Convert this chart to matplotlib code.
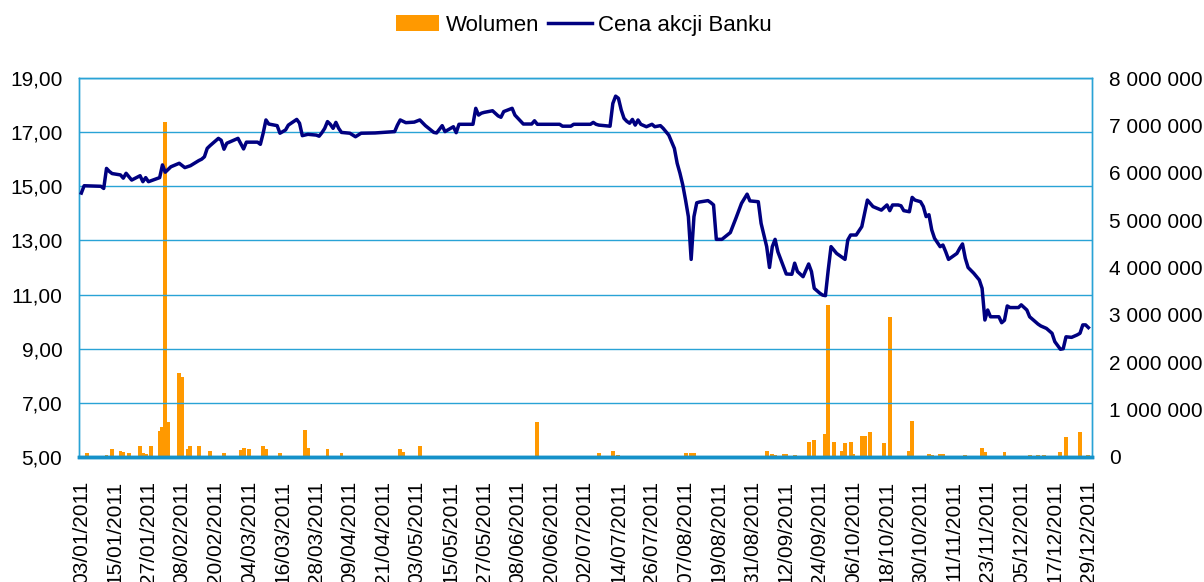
#
# Wolumen i cena akcji Banku, 2011
#

import pandas as pd
import matplotlib
matplotlib.use('Agg')
import matplotlib.pyplot as plt
from matplotlib.ticker import FuncFormatter
from matplotlib.patches import Patch
from matplotlib.lines import Line2D

plt.rcParams['font.family'] = ['Liberation Sans', 'DejaVu Sans']

# cena akcji (dzien/miesiac, cena w zl)
cena_daty = ['03/01', '04/01', '10/01', '11/01', '12/01', '13/01', '14/01', '17/01', '18/01', '19/01',
             '21/01', '24/01', '25/01', '26/01', '27/01', '31/01', '01/02', '02/02', '04/02', '07/02',
             '09/02', '11/02', '14/02', '15/02', '16/02', '17/02', '18/02', '21/02', '22/02', '23/02',
             '24/02', '28/02', '02/03', '03/03', '07/03', '08/03', '09/03', '10/03', '11/03', '14/03',
             '15/03', '16/03', '17/03', '18/03', '21/03', '22/03', '23/03', '25/03', '28/03', '29/03',
             '30/03', '31/03', '01/04', '02/04', '03/04', '04/04', '05/04', '06/04', '09/04', '11/04',
             '13/04', '18/04', '25/04', '26/04', '27/04', '29/04', '02/05', '04/05', '06/05', '09/05',
             '10/05', '12/05', '13/05', '16/05', '17/05', '18/05', '23/05', '24/05', '25/05', '26/05',
             '27/05', '30/05', '01/06', '02/06', '03/06', '06/06', '07/06', '10/06', '13/06', '14/06',
             '15/06', '23/06', '24/06', '27/06', '28/06', '04/07', '05/07', '06/07', '07/07', '11/07',
             '12/07', '13/07', '14/07', '15/07', '16/07', '17/07', '18/07', '19/07', '20/07', '21/07',
             '22/07', '24/07', '26/07', '27/07', '29/07', '30/07', '01/08', '03/08', '04/08', '05/08',
             '06/08', '07/08', '08/08', '09/08', '10/08', '11/08', '12/08', '15/08', '16/08', '17/08',
             '18/08', '20/08', '23/08', '25/08', '27/08', '29/08', '30/08', '02/09', '03/09', '05/09',
             '06/09', '07/09', '08/09', '09/09', '11/09', '12/09', '14/09', '15/09', '16/09', '18/09',
             '20/09', '21/09', '22/09', '24/09', '25/09', '26/09', '27/09', '28/09', '30/09', '03/10',
             '04/10', '05/10', '07/10', '09/10', '11/10', '13/10', '16/10', '18/10', '19/10', '20/10',
             '22/10', '23/10', '24/10', '26/10', '27/10', '28/10', '30/10', '31/10', '01/11', '02/11',
             '03/11', '04/11', '06/11', '07/11', '08/11', '09/11', '12/11', '13/11', '14/11', '15/11',
             '16/11', '18/11', '20/11', '21/11', '22/11', '23/11', '24/11', '27/11', '28/11', '29/11',
             '30/11', '01/12', '04/12', '05/12', '07/12', '08/12', '11/12', '12/12', '14/12', '16/12',
             '17/12', '19/12', '20/12', '21/12', '23/12', '25/12', '26/12', '27/12', '28/12', '29/12']
cena = [14.75, 15.02, 15.00, 14.92, 15.66, 15.55, 15.47, 15.42, 15.30, 15.48,
        15.23, 15.39, 15.17, 15.32, 15.17, 15.32, 15.79, 15.52, 15.72, 15.85,
        15.69, 15.76, 15.95, 16.00, 16.09, 16.40, 16.50, 16.77, 16.70, 16.37,
        16.59, 16.77, 16.38, 16.63, 16.63, 16.55, 16.96, 17.45, 17.30, 17.24,
        16.96, 17.02, 17.08, 17.26, 17.47, 17.33, 16.87, 16.92, 16.89, 16.85,
        16.98, 17.14, 17.39, 17.29, 17.14, 17.36, 17.14, 16.99, 16.96, 16.83,
        16.96, 16.97, 17.02, 17.26, 17.45, 17.35, 17.37, 17.45, 17.24, 16.99,
        16.97, 17.24, 17.02, 17.20, 16.98, 17.29, 17.29, 17.88, 17.63, 17.70,
        17.73, 17.79, 17.60, 17.55, 17.76, 17.88, 17.63, 17.30, 17.30, 17.42,
        17.29, 17.29, 17.22, 17.22, 17.29, 17.29, 17.36, 17.29, 17.26, 17.22,
        18.06, 18.33, 18.25, 17.82, 17.51, 17.40, 17.33, 17.47, 17.26, 17.45,
        17.29, 17.20, 17.29, 17.20, 17.24, 17.14, 16.89, 16.40, 15.85, 15.48,
        15.05, 14.49, 13.88, 12.30, 13.88, 14.39, 14.42, 14.47, 14.40, 14.31,
        13.04, 13.04, 13.29, 13.82, 14.37, 14.71, 14.46, 14.43, 13.63, 12.77,
        12.00, 12.77, 13.04, 12.58, 12.03, 11.76, 11.75, 12.16, 11.85, 11.66,
        12.13, 11.85, 11.23, 11.05, 10.98, 10.96, 11.91, 12.77, 12.52, 12.30,
        13.02, 13.20, 13.20, 13.51, 14.49, 14.25, 14.12, 14.31, 14.10, 14.31,
        14.31, 14.28, 14.10, 14.06, 14.59, 14.49, 14.43, 14.25, 13.88, 13.95,
        13.39, 13.08, 12.77, 12.83, 12.58, 12.30, 12.52, 12.71, 12.87, 12.34,
        12.00, 11.79, 11.54, 11.23, 10.06, 10.43, 10.18, 10.18, 9.96, 10.05,
        10.58, 10.52, 10.52, 10.62, 10.43, 10.18, 9.91, 9.84, 9.75, 9.57,
        9.26, 8.98, 9.00, 9.44, 9.42, 9.51, 9.57, 9.88, 9.88, 9.78]

# wolumen obrotu (sztuki)
wol_daty = ['03/01', '05/01', '12/01', '14/01', '17/01', '18/01', '20/01', '24/01', '25/01', '26/01',
            '28/01', '31/01', '01/02', '02/02', '03/02', '07/02', '08/02', '10/02', '11/02', '14/02',
            '16/02', '18/02', '23/02', '25/02', '01/03', '02/03', '04/03', '09/03', '10/03', '15/03',
            '24/03', '25/03', '28/03', '30/03', '01/04', '06/04', '07/04', '13/04', '14/04', '19/04',
            '20/04', '21/04', '27/04', '28/04', '04/05', '05/05', '09/05', '11/05', '18/05', '30/05',
            '08/06', '13/06', '15/06', '16/06', '19/06', '23/06', '29/06', '07/07', '12/07', '14/07',
            '19/07', '20/07', '04/08', '07/08', '09/08', '10/08', '16/08', '18/08', '21/08', '23/08',
            '24/08', '29/08', '05/09', '07/09', '08/09', '11/09', '12/09', '15/09', '18/09', '20/09',
            '22/09', '26/09', '27/09', '29/09', '02/10', '03/10', '05/10', '06/10', '09/10', '10/10',
            '12/10', '17/10', '19/10', '24/10', '26/10', '27/10', '02/11', '03/11', '06/11', '07/11',
            '15/11', '21/11', '22/11', '29/11', '08/12', '11/12', '13/12', '19/12', '21/12', '26/12',
            '29/12']
wolumen = [30000, 90000, 50000, 160000, 120000, 100000, 90000, 230000, 90000, 60000,
           230000, 550000, 640000, 7070000, 745000, 1770000, 1690000, 170000, 240000, 230000,
           30000, 120000, 90000, 30000, 140000, 200000, 160000, 240000, 160000, 90000,
           570000, 200000, 30000, 30000, 160000, 90000, 30000, 30000, 30000, 30000,
           30000, 30000, 160000, 110000, 230000, 30000, 30000, 30000, 30000, 30000,
           30000, 30000, 745000, 30000, 30000, 30000, 30000, 90000, 130000, 50000,
           30000, 30000, 30000, 90000, 90000, 90000, 30000, 30000, 30000, 30000,
           30000, 30000, 120000, 70000, 40000, 70000, 70000, 40000, 30000, 325000,
           360000, 485000, 3210000, 325000, 130000, 300000, 325000, 70000, 450000, 450000,
           535000, 290000, 2960000, 30000, 130000, 765000, 70000, 40000, 70000, 70000,
           40000, 180000, 100000, 100000, 40000, 40000, 40000, 100000, 430000, 535000,
           40000]

x_cena = pd.to_datetime([d + '/2011' for d in cena_daty], format='%d/%m/%Y')
x_wol = pd.to_datetime([d + '/2011' for d in wol_daty], format='%d/%m/%Y')

niebieski = '#29A3D6'

fig = plt.figure(figsize=(12.04, 5.82), dpi=100)
ax = fig.add_axes([79 / 1204, 1 - 457 / 582, (1092 - 79) / 1204, (457 - 78) / 582])
ax2 = ax.twinx()

# slupki wolumenu na prawej osi
ax2.bar(x_wol, wolumen, width=1.4, color='#FF9900', zorder=2)
ax2.set_ylim(0, 8000000)
ax2.set_yticks(range(0, 8000001, 1000000))
ax2.yaxis.set_major_formatter(FuncFormatter(lambda v, p: f'{int(v):,}'.replace(',', ' ')))

# linia ceny na lewej osi, nad slupkami
ax.set_zorder(ax2.get_zorder() + 1)
ax.patch.set_visible(False)
ax.plot(x_cena, cena, color='#000080', lw=2.5, solid_joinstyle='round', zorder=3)
ax.set_ylim(5, 19)
ax.set_yticks(range(5, 20, 2))
ax.yaxis.set_major_formatter(FuncFormatter(lambda v, p: f'{v:.2f}'.replace('.', ',')))
ax.grid(axis='y', color=niebieski, lw=1)
ax.set_axisbelow(True)

start = pd.Timestamp('2011-01-03')
ticki = pd.date_range('2011-01-03', '2011-12-29', freq='12D')
ax.set_xticks(ticki)
ax.set_xticklabels([t.strftime('%d/%m/%Y') for t in ticki], rotation=90, va='top', ha='center')
ax.set_xlim(start - pd.Timedelta(hours=20), pd.Timestamp('2011-12-29') + pd.Timedelta(hours=31))

for a in (ax, ax2):
    for s in a.spines.values():
        s.set_color(niebieski)
        s.set_linewidth(1)
    a.spines['bottom'].set_color('#1591C9')
    a.spines['bottom'].set_linewidth(2.5)

ax.tick_params(axis='y', length=0, labelsize=15, pad=12)
ax.tick_params(axis='x', length=0, labelsize=15, pad=17)
ax2.tick_params(axis='y', length=0, labelsize=15, pad=12)

uchwyty = [Patch(facecolor='#FF9900', edgecolor='none', label='Wolumen'),
           Line2D([0], [0], color='#000080', lw=2.5, label='Cena akcji Banku')]
fig.legend(handles=uchwyty, loc='center', bbox_to_anchor=(0.485, 0.957), ncol=2, frameon=False,
           fontsize=16, handlelength=1.95, handletextpad=0.3, columnspacing=0.4)

fig.savefig('out.png', dpi=100)
